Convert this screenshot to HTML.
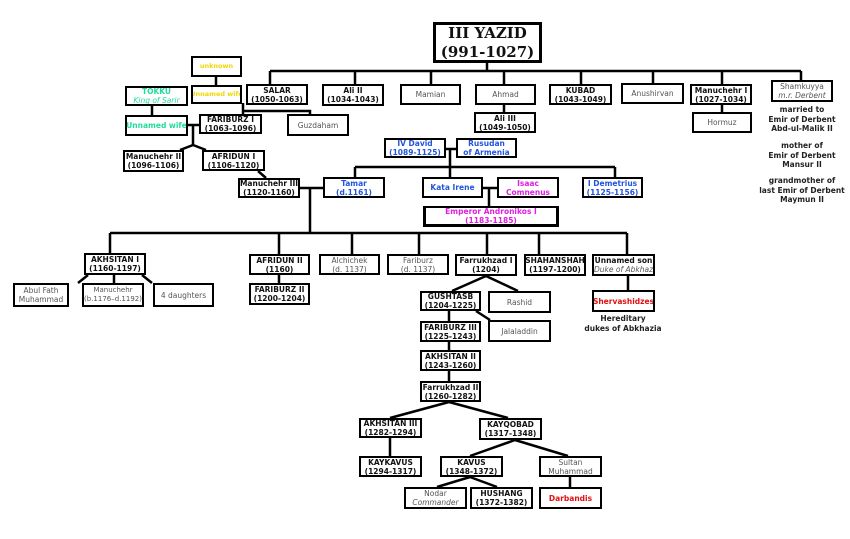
<!DOCTYPE html>
<html><head><meta charset="utf-8">
<style>
body{margin:0;width:850px;height:539px;background:#fff;position:relative;overflow:hidden;font-family:"DejaVu Sans","Liberation Sans",sans-serif;}
.b{position:absolute;box-sizing:border-box;border:2px solid #000;background:#fff;display:flex;align-items:center;justify-content:center;text-align:center;font-size:7.5px;line-height:9px;font-weight:bold;color:#111;white-space:nowrap;overflow:hidden;}
.n{font-weight:normal;color:#555;}
.i{font-style:italic;font-weight:normal;}
.y{color:#f2d600;font-size:6.5px;}
.g{color:#22dd99;}
.bl{color:#2255dd;}
.m{color:#e020e0;}
.r{color:#e01010;}
.t{position:absolute;text-align:center;font-size:7.5px;line-height:9.5px;font-weight:bold;color:#222;white-space:nowrap;}
svg{position:absolute;left:0;top:0;}
</style></head><body>
<svg width="850" height="539" stroke="#000" stroke-width="2.5" fill="none">
<path d="M487 62V71M270 71H801M270 71V84M355 71V84M431 71V84M504 71V84M581 71V84M653 71V84M722 71V84M801 71V81"/>
<path d="M504 105V112M722 105V112M216 77V85M152 105V115"/>
<path d="M243 103V114M243 111H310V114M188 125H199M193 125V145L180 150M193 145L206 150M258 171L266 178"/>
<path d="M300 188H323M310 188V233M446 149H456M450 149V167M355 167H615M355 167V177M450 167V177M615 167V177M483 188H497M489 188V206"/>
<path d="M110 233H627M110 233V253M279 233V254M352 233V254M419 233V254M487 233V254M539 233V254M627 233V254"/>
<path d="M88 275L78 283M114 275V283M142 275L152 283M279 275V283"/>
<path d="M486 276L452 291M486 276L518 291M476 311L490 320M628 276V290M449 311V321M449 342V350M449 371V381"/>
<path d="M449 402L390 418M449 402L508 418M390 438V456M515 440L470 456M515 440L568 456M470 477L437 487M470 477L497 487M570 477V487"/>
</svg>
<div class="b" style="left:433px;top:22px;width:109px;height:41px;border-width:3px;font-size:15px;line-height:19px;font-family:'DejaVu Serif','Liberation Serif',serif;">III YAZID<br>(991-1027)</div>

<div class="b y" style="left:191px;top:56px;width:51px;height:21px;">unknown</div>
<div class="b y" style="left:191px;top:85px;width:51px;height:19px;">Unnamed wife</div>
<div class="b g" style="left:125px;top:86px;width:63px;height:20px;flex-direction:column;">TOKKU<br><span class="i">King of Sarir</span></div>
<div class="b g" style="left:125px;top:115px;width:63px;height:21px;">Unnamed wife</div>

<div class="b" style="left:246px;top:84px;width:62px;height:21px;">SALAR<br>(1050-1063)</div>
<div class="b" style="left:322px;top:84px;width:62px;height:22px;">Ali II<br>(1034-1043)</div>
<div class="b n" style="left:400px;top:84px;width:61px;height:21px;">Mamian</div>
<div class="b n" style="left:475px;top:84px;width:61px;height:21px;">Ahmad</div>
<div class="b" style="left:549px;top:84px;width:63px;height:21px;">KUBAD<br>(1043-1049)</div>
<div class="b n" style="left:621px;top:83px;width:63px;height:21px;">Anushirvan</div>
<div class="b" style="left:690px;top:84px;width:62px;height:21px;">Manuchehr I<br>(1027-1034)</div>
<div class="b n" style="left:771px;top:80px;width:62px;height:22px;flex-direction:column;">Shamkuyya<br><span class="i">m.r. Derbent</span></div>
<div class="t" style="left:752px;top:105px;width:100px;">married to<br>Emir of Derbent<br>Abd-ul-Malik II</div>
<div class="t" style="left:752px;top:141px;width:100px;">mother of<br>Emir of Derbent<br>Mansur II</div>
<div class="t" style="left:752px;top:176px;width:100px;">grandmother of<br>last Emir of Derbent<br>Maymun II</div>

<div class="b" style="left:199px;top:114px;width:63px;height:20px;">FARIBURZ I<br>(1063-1096)</div>
<div class="b n" style="left:287px;top:114px;width:62px;height:22px;">Guzdaham</div>
<div class="b" style="left:474px;top:112px;width:62px;height:21px;">Ali III<br>(1049-1050)</div>
<div class="b n" style="left:692px;top:112px;width:60px;height:21px;">Hormuz</div>

<div class="b" style="left:123px;top:150px;width:61px;height:22px;">Manuchehr II<br>(1096-1106)</div>
<div class="b" style="left:202px;top:150px;width:63px;height:21px;">AFRIDUN I<br>(1106-1120)</div>
<div class="b bl" style="left:384px;top:138px;width:62px;height:20px;">IV David<br>(1089-1125)</div>
<div class="b bl" style="left:456px;top:138px;width:61px;height:20px;">Rusudan<br>of Armenia</div>

<div class="b" style="left:238px;top:178px;width:62px;height:20px;">Manuchehr III<br>(1120-1160)</div>
<div class="b bl" style="left:323px;top:177px;width:62px;height:21px;">Tamar<br>(d.1161)</div>
<div class="b bl" style="left:422px;top:177px;width:61px;height:21px;">Kata Irene</div>
<div class="b m" style="left:497px;top:177px;width:62px;height:21px;">Isaac<br>Comnenus</div>
<div class="b bl" style="left:582px;top:177px;width:61px;height:21px;">I Demetrius<br>(1125-1156)</div>
<div class="b m" style="left:423px;top:206px;width:136px;height:21px;border-width:2px 3px 3px 3px;">Emperor Andronikos I<br>(1183-1185)</div>

<div class="b" style="left:84px;top:253px;width:62px;height:22px;">AKHSITAN I<br>(1160-1197)</div>
<div class="b" style="left:249px;top:254px;width:61px;height:21px;">AFRIDUN II<br>(1160)</div>
<div class="b n" style="left:319px;top:254px;width:61px;height:21px;">Alchichek<br>(d. 1137)</div>
<div class="b n" style="left:387px;top:254px;width:62px;height:21px;">Fariburz<br>(d. 1137)</div>
<div class="b" style="left:455px;top:254px;width:62px;height:22px;">Farrukhzad I<br>(1204)</div>
<div class="b" style="left:524px;top:254px;width:62px;height:22px;">SHAHANSHAH<br>(1197-1200)</div>
<div class="b" style="left:592px;top:254px;width:63px;height:22px;flex-direction:column;">Unnamed son<br><span class="i" style="color:#555">Duke of Abkhaz</span></div>

<div class="b n" style="left:13px;top:283px;width:56px;height:24px;">Abul Fath<br>Muhammad</div>
<div class="b n" style="left:82px;top:283px;width:62px;height:24px;font-size:7px;">Manuchehr<br>(b.1176–d.1192)</div>
<div class="b n" style="left:153px;top:283px;width:61px;height:24px;">4 daughters</div>
<div class="b" style="left:249px;top:283px;width:61px;height:22px;">FARIBURZ II<br>(1200-1204)</div>
<div class="b" style="left:420px;top:291px;width:61px;height:20px;">GUSHTASB<br>(1204-1225)</div>
<div class="b n" style="left:488px;top:291px;width:63px;height:22px;">Rashid</div>
<div class="b r" style="left:592px;top:290px;width:63px;height:22px;">Shervashidzes</div>
<div class="t" style="left:583px;top:314px;width:80px;">Hereditary<br>dukes of Abkhazia</div>
<div class="b" style="left:420px;top:321px;width:61px;height:21px;">FARIBURZ III<br>(1225-1243)</div>
<div class="b n" style="left:488px;top:320px;width:63px;height:22px;">Jalaladdin</div>
<div class="b" style="left:420px;top:350px;width:61px;height:21px;">AKHSITAN II<br>(1243-1260)</div>
<div class="b" style="left:420px;top:381px;width:61px;height:21px;">Farrukhzad II<br>(1260-1282)</div>
<div class="b" style="left:359px;top:418px;width:63px;height:20px;">AKHSITAN III<br>(1282-1294)</div>
<div class="b" style="left:479px;top:418px;width:63px;height:22px;">KAYQOBAD<br>(1317-1348)</div>
<div class="b" style="left:359px;top:456px;width:63px;height:21px;">KAYKAVUS<br>(1294-1317)</div>
<div class="b" style="left:440px;top:456px;width:63px;height:21px;">KAVUS<br>(1348-1372)</div>
<div class="b n" style="left:539px;top:456px;width:63px;height:21px;">Sultan<br>Muhammad</div>
<div class="b n" style="left:404px;top:487px;width:63px;height:22px;flex-direction:column;">Nodar<br><span class="i">Commander</span></div>
<div class="b" style="left:470px;top:487px;width:63px;height:22px;">HUSHANG<br>(1372-1382)</div>
<div class="b r" style="left:539px;top:487px;width:63px;height:22px;">Darbandis</div>
</body></html>
